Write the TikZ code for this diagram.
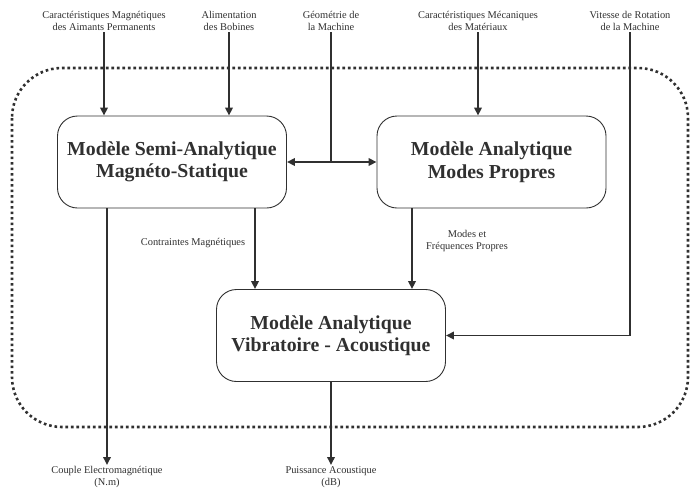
\documentclass[tikz,border=0pt]{standalone}
\usepackage{fontspec}
\setmainfont{Liberation Serif}
\usetikzlibrary{arrows.meta,calc,positioning}
\definecolor{ink}{HTML}{303030}

\begin{document}
\begin{tikzpicture}[x=1pt,y=-1pt,text=ink,>={Triangle[length=8pt,width=7.5pt]},
  model/.style={draw=ink,line width=.9pt,rounded corners=20pt,minimum width=229pt,minimum height=92pt,
    align=center,font=\fontsize{19.8}{22.5}\selectfont\bfseries},
  lbl/.style={align=center,font=\fontsize{10.4}{12}\selectfont,inner sep=1pt},
  flow/.style={ink,line width=1.8pt}]
  \useasboundingbox (0,0) rectangle (696,488);
  % zone du modele global
  \draw[ink,line width=2.6pt,dash pattern=on 2.6pt off 2.9pt,rounded corners=50pt] (12,68) rectangle (688,427);

  \node[model] (mss) at (172,162) {Modèle Semi-Analytique\\Magnéto-Statique};
  \node[model] (map) at (491.5,162) {Modèle Analytique\\Modes Propres};
  \node[model] (mva) at (331,335.5) {Modèle Analytique\\Vibratoire - Acoustique};

  \node[lbl,anchor=south] (aim) at (104,32) {Caractéristiques Magnétiques\\des Aimants Permanents};
  \node[lbl,anchor=south] (bob) at (229,32) {Alimentation\\des Bobines};
  \node[lbl,anchor=south] (geo) at (331,32) {Géométrie de\\la Machine};
  \node[lbl,anchor=south] (mat) at (478,32) {Caractéristiques Mécaniques\\des Matériaux};
  \node[lbl,anchor=south] (vit) at (630,32) {Vitesse de Rotation\\de la Machine};
  \node[lbl] (ctr) at (193,243) {Contraintes Magnétiques};
  \node[lbl] (mod) at (467,241) {Modes et\\Fréquences Propres};
  \node[lbl,anchor=north] (cpl) at (107,465) {Couple Electromagnétique\\(N.m)};
  \node[lbl,anchor=north] (pui) at (331,465) {Puissance Acoustique\\(dB)};
  \coordinate (geoJ) at (331,162);
  \coordinate (vitJ) at (630,335.5);

  \draw[flow,->] (aim.south) -- (aim.south |- mss.north);
  \draw[flow,->] (bob.south) -- (bob.south |- mss.north);
  \draw[flow,->] (mat.south) -- (mat.south |- map.north);
  \draw[flow] (geo.south) -- (geoJ);
  \draw[flow,<->] (mss.east) -- (map.west);
  \draw[flow] (vit.south) -- (vitJ);
  \draw[flow,->] (vitJ) -- (mva.east);
  \draw[flow,->] (255,208) coordinate (ctrA) -- (ctrA |- mva.north);
  \draw[flow,->] (412,208) coordinate (modA) -- (modA |- mva.north);
  \draw[flow,->] (cpl.north |- mss.south) -- (cpl.north);
  \draw[flow,->] (mva.south) -- (pui.north);
\end{tikzpicture}
\end{document}
